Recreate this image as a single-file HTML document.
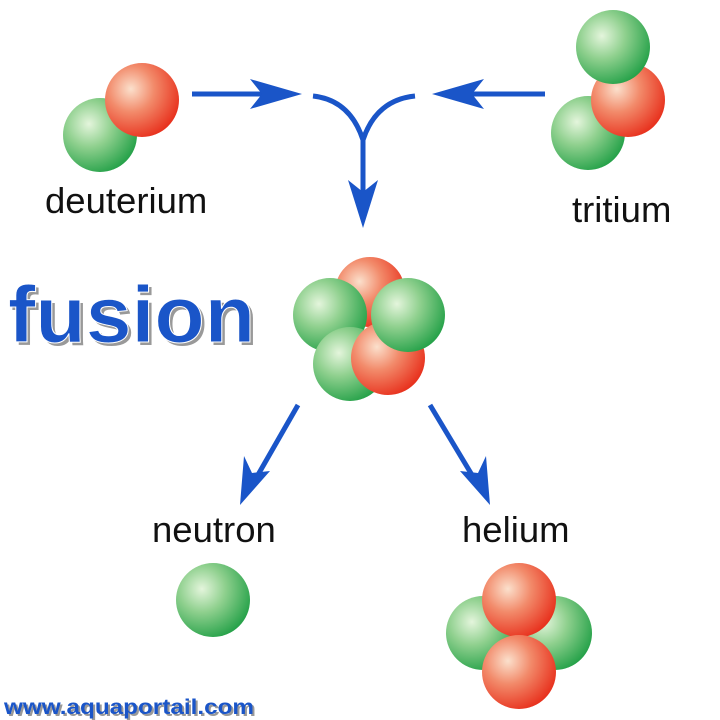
<!DOCTYPE html>
<html><head><meta charset="utf-8"><style>html,body{margin:0;padding:0;background:#fff}svg{display:block}</style></head>
<body>
<svg width="720" height="720" viewBox="0 0 720 720" xmlns="http://www.w3.org/2000/svg">
<defs>
<radialGradient id="g" cx="0.35" cy="0.35" r="0.7">
<stop offset="0" stop-color="#e4f5dc"/><stop offset="0.45" stop-color="#8fd08e"/><stop offset="1" stop-color="#27a24a"/></radialGradient>
<radialGradient id="r" cx="0.35" cy="0.35" r="0.7">
<stop offset="0" stop-color="#fbe0cc"/><stop offset="0.45" stop-color="#f28a6a"/><stop offset="1" stop-color="#e8321e"/></radialGradient>
</defs>
<g fill="none" stroke="#1a55c8" stroke-width="5">
<line x1="192" y1="94" x2="270" y2="94"/>
<line x1="545" y1="94" x2="445" y2="94"/>
<path d="M313 96 Q350 100 363 140 Q376 100 415 96"/>
<line x1="363" y1="138" x2="363" y2="205"/>
<line x1="298" y1="405" x2="255" y2="480"/>
<line x1="430" y1="405" x2="475" y2="480"/>
</g>
<g fill="#1a55c8">
<path d="M302 94 L250 79 L262 94 L250 109 Z"/>
<path d="M432 94 L484 79 L472 94 L484 109 Z"/>
<path d="M363 228 L348 180 L363 192 L378 180 Z"/>
<path d="M240 505 L244 456 L252 473 L270 471 Z"/>
<path d="M490 505 L460 471 L478 473 L486 456 Z"/>
</g>
<circle cx="100" cy="135" r="37" fill="url(#g)"/>
<circle cx="142" cy="100" r="37" fill="url(#r)"/>
<circle cx="588" cy="133" r="37" fill="url(#g)"/>
<circle cx="628" cy="100" r="37" fill="url(#r)"/>
<circle cx="613" cy="47" r="37" fill="url(#g)"/>
<circle cx="370" cy="292" r="35" fill="url(#r)"/>
<circle cx="330" cy="315" r="37" fill="url(#g)"/>
<circle cx="350" cy="364" r="37" fill="url(#g)"/>
<circle cx="388" cy="358" r="37" fill="url(#r)"/>
<circle cx="408" cy="315" r="37" fill="url(#g)"/>
<circle cx="213" cy="600" r="37" fill="url(#g)"/>
<circle cx="483" cy="633" r="37" fill="url(#g)"/>
<circle cx="555" cy="633" r="37" fill="url(#g)"/>
<circle cx="519" cy="600" r="37" fill="url(#r)"/>
<circle cx="519" cy="672" r="37" fill="url(#r)"/>
<g font-family="Liberation Sans, sans-serif" font-size="36.5" fill="#111">
<text x="45" y="213">deuterium</text>
<text x="572" y="222">tritium</text>
<text x="152" y="542">neutron</text>
<text x="462" y="542">helium</text>
</g>
<g font-family="Liberation Sans, sans-serif" font-weight="bold">
<text x="11" y="345" font-size="80" textLength="247" lengthAdjust="spacingAndGlyphs" fill="#999">fusion</text>
<text x="8" y="342" font-size="80" textLength="247" lengthAdjust="spacingAndGlyphs" fill="#1a55c8" stroke="#fff" stroke-width="1">fusion</text>
<text x="6" y="716" font-size="21" textLength="250" lengthAdjust="spacingAndGlyphs" fill="#999">www.aquaportail.com</text>
<text x="4" y="714" font-size="21" textLength="250" lengthAdjust="spacingAndGlyphs" fill="#1a55c8">www.aquaportail.com</text>
</g>
</svg>
</body></html>
